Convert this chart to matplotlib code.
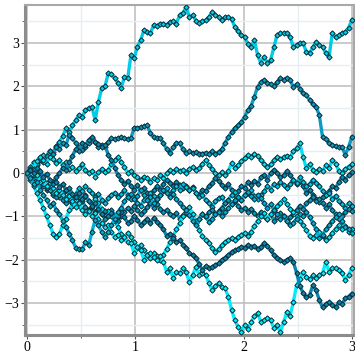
import numpy as np
import matplotlib
matplotlib.use("Agg")
import matplotlib.pyplot as plt
from matplotlib.ticker import MultipleLocator

# ten random walks, 101 samples each, dt = 0.03
t = np.arange(101) * 0.03

walk_a = [0, 0.12, 0.25, 0.18, 0.32, 0.42, 0.38, 0.52, 0.48, 0.62,
          0.72, 0.85, 1.04, 0.95, 1.1, 1.22, 1.35, 1.3, 1.45, 1.5,
          1.52, 1.22, 1.65, 1.96, 2.0, 2.3, 2.28, 2.19, 2.08, 1.96,
          2.22, 2.19, 2.72, 2.65, 2.92, 3.07, 3.3, 3.25, 3.23, 3.42,
          3.4, 3.45, 3.45, 3.42, 3.48, 3.5, 3.45, 3.65, 3.7, 3.83,
          3.6, 3.65, 3.52, 3.46, 3.5, 3.53, 3.6, 3.72, 3.65, 3.6,
          3.53, 3.6, 3.6, 3.55, 3.37, 3.28, 3.19, 3.14, 2.98, 2.91,
          3.07, 2.72, 2.54, 2.68, 2.54, 2.61, 2.9, 3.19, 3.23, 3.23,
          3.23, 3.14, 2.91, 2.96, 3.0, 3.0, 2.8, 2.77, 2.9, 3.03,
          2.95, 2.91, 2.77, 2.68, 3.23, 3.14, 3.18, 3.23, 3.26, 3.35,
          3.53]
walk_b = [0, 0.1, 0.05, 0.2, 0.3, 0.25, 0.4, 0.5, 0.45, 0.6,
          0.55, 0.7, 0.65, 0.88, 0.8, 0.69, 0.6, 0.53, 0.6, 0.7,
          0.8, 0.72, 0.6, 0.65, 0.6, 0.72, 0.8, 0.78, 0.8, 0.83,
          0.8, 0.78, 0.8, 1.05, 1.04, 1.06, 1.08, 1.1, 0.92, 0.83,
          0.82, 0.8, 0.69, 0.55, 0.46, 0.6, 0.7, 0.69, 0.55, 0.46,
          0.5, 0.46, 0.48, 0.45, 0.45, 0.47, 0.45, 0.5, 0.45, 0.49,
          0.55, 0.7, 0.83, 0.95, 1.04, 1.1, 1.18, 1.3, 1.45, 1.55,
          1.76, 1.99, 2.1, 2.15, 2.08, 2.05, 2.0, 2.1, 2.19, 2.15,
          2.2, 2.15, 1.99, 2.05, 1.95, 1.85, 1.8, 1.69, 1.6, 1.52,
          1.34, 0.83, 0.78, 0.7, 0.65, 0.62, 0.6, 0.6, 0.42, 0.6,
          0.83]
walk_c = [0, 0.15, 0.1, 0.28, 0.37, 0.3, 0.22, 0.37, 0.33, 0.23,
          0.3, 0.18, 0.25, 0.1, 0.15, 0.05, 0.12, 0.2, 0.08, 0.0,
          0.05, -0.08, 0.02, 0.1, 0.02, 0.08, 0.2, 0.3, 0.37, 0.25,
          0.15, 0.0, 0.05, -0.05, -0.1, -0.16, -0.08, -0.12, -0.2, -0.12,
          -0.15, -0.05, -0.12, 0.0, 0.07, 0.02, 0.1, 0.05, 0.07, 0.0,
          0.1, 0.14, 0.07, 0.12, 0.22, 0.3, 0.18, 0.1, 0.0, -0.05,
          0.02, -0.05, 0.05, 0.23, 0.12, 0.18, 0.28, 0.35, 0.42, 0.38,
          0.45, 0.4, 0.3, 0.22, 0.14, 0.2, 0.3, 0.37, 0.32, 0.37,
          0.4, 0.37, 0.5, 0.58, 0.69, 0.37, 0.12, 0.2, 0.08, 0.02,
          0.1, 0.05, 0.18, 0.12, 0.3, 0.22, 0.05, 0.0, 0.1, 0.15,
          0.2]
walk_d = [0, -0.08, -0.2, -0.12, -0.3, -0.25, -0.38, -0.3, -0.2, -0.1,
          0.0, 0.12, 0.08, 0.25, 0.4, 0.55, 0.5, 0.7, 0.65, 0.76,
          0.83, 0.72, 0.68, 0.6, 0.65, 0.42, 0.3, 0.12, -0.05, -0.15,
          -0.25, -0.18, -0.3, -0.38, -0.28, -0.42, -0.35, -0.45, -0.5, -0.4,
          -0.3, -0.38, -0.25, -0.15, -0.22, -0.3, -0.2, -0.28, -0.35, -0.3,
          -0.4, -0.32, -0.45, -0.5, -0.38, -0.42, -0.3, -0.22, -0.12, -0.18,
          -0.28, -0.35, -0.25, -0.4, -0.5, -0.42, -0.3, -0.35, -0.2, -0.28,
          -0.18, -0.25, -0.1, -0.05, -0.15, 0.0, 0.08, 0.0, -0.1, -0.05,
          0.05, -0.05, -0.15, -0.25, -0.18, -0.3, -0.45, -0.38, -0.5, -0.6,
          -0.67, -0.55, -0.5, -0.42, -0.3, -0.35, -0.2, -0.1, -0.15, -0.05,
          0.02]
walk_e = [0, -0.1, 0.05, -0.05, -0.18, -0.3, -0.22, -0.4, -0.5, -0.42,
          -0.55, -0.45, -0.38, -0.5, -0.6, -0.48, -0.35, -0.42, -0.3, -0.38,
          -0.45, -0.55, -0.48, -0.62, -0.7, -0.58, -0.5, -0.45, -0.55, -0.48,
          -0.4, -0.5, -0.6, -0.55, -0.68, -0.75, -0.62, -0.55, -0.45, -0.52,
          -0.6, -0.5, -0.42, -0.35, -0.48, -0.4, -0.3, -0.38, -0.25, -0.32,
          -0.4, -0.35, -0.45, -0.55, -0.5, -0.62, -0.7, -0.78, -0.65, -0.58,
          -0.55, -0.7, -0.62, -0.5, -0.44, -0.55, -0.62, -0.5, -0.45, -0.4,
          -0.52, -0.6, -0.5, -0.42, -0.3, -0.38, -0.25, -0.3, -0.2, -0.28,
          -0.35, -0.25, -0.15, -0.22, -0.1, -0.2, -0.3, -0.25, -0.15, -0.22,
          -0.3, -0.42, -0.5, -0.45, -0.6, -0.52, -0.65, -0.72, -0.8, -0.7,
          -0.75]
walk_f = [0, 0.1, -0.05, -0.15, -0.1, -0.25, -0.35, -0.28, -0.45, -0.55,
          -0.5, -0.62, -0.7, -0.6, -0.75, -0.68, -0.55, -0.65, -0.78, -0.85,
          -0.78, -0.9, -0.82, -0.95, -1.05, -0.92, -0.85, -0.98, -1.1, -1.0,
          -0.9, -0.8, -0.88, -0.75, -0.85, -0.95, -0.88, -0.78, -0.7, -0.8,
          -0.72, -0.82, -0.9, -0.85, -0.95, -1.0, -0.92, -1.05, -0.97, -0.9,
          -0.97, -1.05, -1.15, -1.05, -0.95, -1.02, -0.9, -0.85, -0.95, -0.88,
          -0.8, -0.7, -0.62, -0.72, -0.65, -0.75, -0.85, -0.8, -0.9, -0.82,
          -0.92, -1.0, -0.9, -0.98, -1.05, -0.95, -1.1, -1.02, -0.92, -1.0,
          -1.1, -1.02, -0.95, -0.85, -0.75, -0.82, -0.7, -0.62, -0.55, -0.65,
          -0.6, -0.7, -0.8, -0.72, -0.85, -0.95, -1.05, -0.98, -0.9, -0.82,
          -0.88]
walk_g = [0, -0.15, -0.3, -0.45, -0.62, -0.8, -1.0, -1.2, -1.4, -1.48,
          -1.4, -1.2, -1.05, -0.85, -0.7, -0.62, -0.75, -0.6, -0.5, -0.65,
          -0.72, -0.6, -0.7, -0.82, -0.95, -0.88, -1.0, -1.1, -1.25, -1.4,
          -1.5, -1.38, -1.48, -1.6, -1.72, -1.65, -1.78, -1.9, -1.95, -1.85,
          -1.92, -2.0, -1.88, -1.75, -1.6, -1.45, -1.3, -1.15, -1.0, -0.9,
          -0.78, -0.95, -1.1, -1.32, -1.45, -1.55, -1.62, -1.73, -1.82, -1.75,
          -1.66, -1.6, -1.55, -1.5, -1.55, -1.47, -1.42, -1.38, -1.45, -1.35,
          -1.22, -1.1, -1.0, -0.92, -1.05, -0.95, -0.85, -0.75, -0.68, -0.6,
          -0.72, -0.82, -0.9, -1.0, -1.1, -1.2, -1.32, -1.45, -1.5, -1.42,
          -1.35, -1.45, -1.55, -1.48, -1.38, -1.28, -1.2, -1.3, -1.22, -1.35,
          -1.3]
walk_h = [0, -0.1, 0.05, -0.05, -0.2, -0.15, -0.3, -0.22, -0.35, -0.45,
          -0.38, -0.5, -0.6, -0.52, -0.65, -0.78, -0.7, -0.85, -0.95, -0.88,
          -1.0, -0.92, -1.05, -1.15, -1.25, -1.2, -1.35, -1.48, -1.42, -1.55,
          -1.48, -1.6, -1.62, -1.85, -1.7, -1.78, -2.0, -1.9, -1.85, -1.94,
          -2.0, -1.92, -2.05, -2.28, -2.2, -2.43, -2.28, -2.31, -2.2, -2.29,
          -2.52, -2.35, -2.17, -2.36, -2.3, -2.35, -2.54, -2.7, -2.6, -2.54,
          -2.62, -2.66, -2.86, -3.16, -3.4, -3.55, -3.67, -3.5, -3.6, -3.44,
          -3.3, -3.23, -3.44, -3.4, -3.35, -3.39, -3.58, -3.5, -3.67, -3.44,
          -3.21, -3.3, -2.98, -2.59, -2.45, -2.29, -2.4, -2.45, -2.36, -2.42,
          -2.35, -2.31, -2.05, -2.28, -2.2, -2.2, -2.24, -2.3, -2.47, -2.35,
          -2.2]
walk_i = [0, 0.08, 0.0, 0.12, 0.05, -0.08, -0.02, -0.15, -0.25, -0.2,
          -0.32, -0.25, -0.4, -0.35, -0.48, -0.55, -0.45, -0.6, -0.52, -0.65,
          -0.75, -0.68, -0.82, -0.95, -0.88, -1.0, -0.92, -1.05, -0.98, -0.9,
          -1.02, -1.15, -1.1, -0.98, -1.08, -1.2, -1.12, -1.05, -1.16, -1.04,
          -1.12, -1.2, -1.3, -1.45, -1.4, -1.5, -1.6, -1.55, -1.65, -1.73,
          -1.85, -1.9, -1.96, -2.1, -2.24, -2.15, -2.2, -2.17, -2.12, -2.08,
          -2.0, -1.95, -1.89, -1.82, -1.78, -1.75, -1.7, -1.72, -1.66, -1.7,
          -1.68, -1.75, -1.7, -1.62, -1.68, -1.78, -1.89, -1.95, -2.0, -2.05,
          -2.0, -1.96, -2.05, -2.3, -2.6, -2.77, -2.86, -2.82, -2.59, -2.7,
          -2.93, -3.1, -3.02, -2.98, -3.05, -3.1, -2.98, -3.02, -2.89, -2.85,
          -2.78]
walk_j = [0, -0.12, -0.25, -0.2, -0.38, -0.5, -0.62, -0.75, -0.7, -0.85,
          -0.95, -1.1, -1.25, -1.4, -1.55, -1.73, -1.75, -1.75, -1.6, -1.66,
          -1.35, -1.08, -1.2, -1.36, -1.48, -1.35, -1.2, -1.05, -0.9, -0.8,
          -0.65, -0.55, -0.48, -0.6, -0.52, -0.4, -0.5, -0.62, -0.55, -0.7,
          -0.6, -0.5, -0.38, -0.45, -0.55, -0.48, -0.6, -0.7, -0.78, -0.85,
          -0.97, -1.1, -1.2, -1.05, -0.95, -1.0, -1.12, -1.05, -0.95, -0.9,
          -1.0, -0.9, -0.8, -0.72, -0.62, -0.55, -0.62, -0.5, -0.44, -0.52,
          -0.6, -0.5, -0.58, -0.7, -0.8, -0.72, -0.85, -0.95, -1.05, -1.0,
          -1.1, -1.2, -1.15, -1.05, -0.95, -1.0, -0.9, -1.02, -1.15, -1.3,
          -1.5, -1.42, -1.3, -1.2, -1.1, -1.02, -0.95, -1.1, -1.25, -1.3,
          -1.38]

walks = [walk_a, walk_b, walk_c, walk_d, walk_e, walk_f, walk_g, walk_h, walk_i, walk_j]
colors = ['#00cce8', '#0a9cc2', '#00e0f4', '#0a8ab2', '#00c4e2',
          '#0a98be', '#00e6f8', '#00ecfc', '#0a86ae', '#00b0d4']

plt.rcParams['font.family'] = ['Liberation Serif', 'DejaVu Serif']

fig = plt.figure(figsize=(3.55, 3.55), dpi=100)
ax = fig.add_axes([0.07, 0.056, 0.927, 0.93])

for w, c in zip(walks, colors):
    ax.plot(t, w, color=c, lw=2.4, marker='D', ms=2.7, mfc=c,
            mec='#0c2a33', mew=0.7, zorder=3)

ax.set_xlim(-0.02, 3.02)
ax.set_ylim(-3.74, 3.88)
ax.xaxis.set_major_locator(MultipleLocator(1))
ax.xaxis.set_minor_locator(MultipleLocator(0.5))
ax.yaxis.set_minor_locator(MultipleLocator(0.5))
ax.grid(which='major', color='#bcbcbc', lw=1.1, zorder=0)
ax.grid(which='minor', color='#e4eff2', lw=1.0, zorder=0)
ax.set_axisbelow(True)
ax.set_yticks([-3, -2, -1, 0, 1, 2, 3])
ax.set_yticklabels(['\u22123', '\u22122', '\u22121', '0', '1', '2', '3'])
ax.tick_params(which='both', direction='out', color='#555555', labelsize=10, pad=1)
ax.tick_params(which='major', length=3)
ax.tick_params(which='minor', length=2)

for s in ['top', 'right']:
    ax.spines[s].set_color('#a8a8a8')
    ax.spines[s].set_linewidth(1.5)
for s in ['left', 'bottom']:
    ax.spines[s].set_color('#8c8c8c')
    ax.spines[s].set_linewidth(2.2)

fig.savefig('out.png', dpi=100)
